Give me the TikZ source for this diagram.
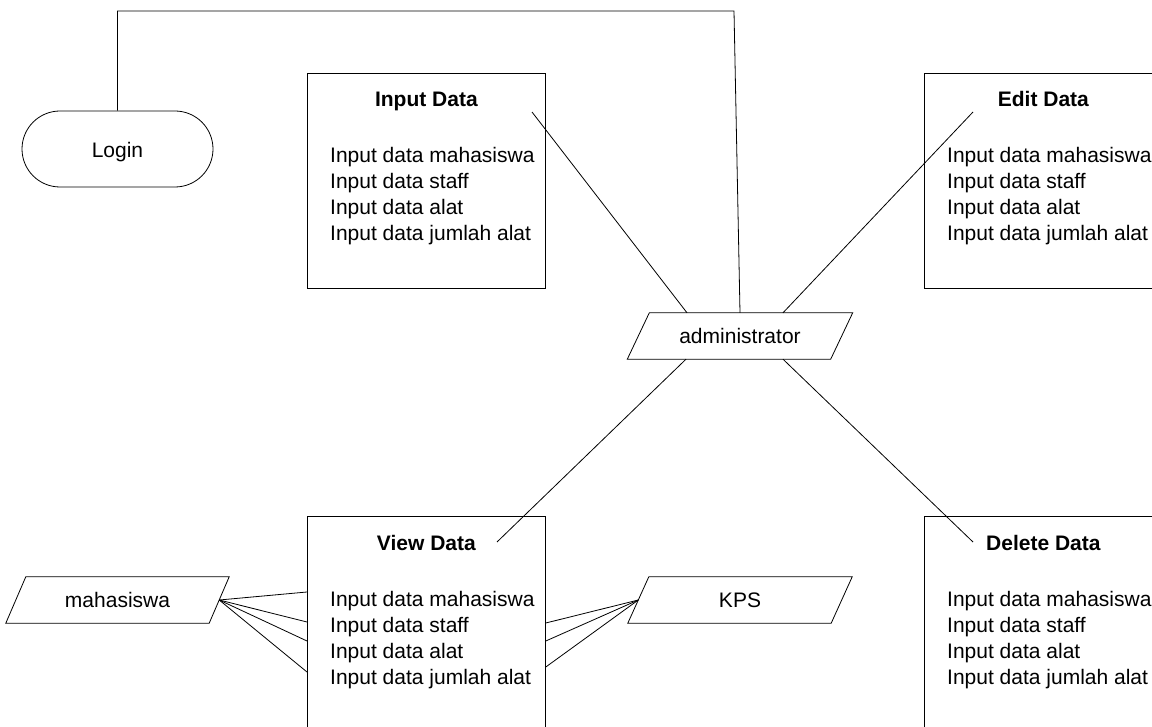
\documentclass[tikz,border=0pt]{standalone}
\usepackage{fontspec}
\setmainfont{Liberation Sans}
\usetikzlibrary{calc}

\tikzset{
  txt/.style={font=\fontsize{21}{25}\selectfont},
  menubox/.style={draw, line width=0.8pt, minimum width=238pt, minimum height=215pt,
                  inner sep=0pt, anchor=north west},
  ttl/.style={font=\fontsize{21}{25}\selectfont\bfseries, anchor=base, inner sep=0pt},
  itm/.style={txt, anchor=base west, inner sep=0pt},
  actor/.style={txt, minimum width=203pt, minimum height=46pt, inner sep=0pt},
  term/.style={txt, draw, line width=0.8pt, rounded corners=38pt,
               minimum width=191pt, minimum height=76pt, inner sep=0pt},
  wire/.style={line width=0.8pt},
}

% parallelogram drawn around a rectangular node: #1 = node, #2 = half slant
\newcommand{\ioshape}[2]{%
  \draw[wire] ($(#1.north west)+(#2,0)$) -- ($(#1.north east)+(#2,0)$)
    -- ($(#1.south east)+(-#2,0)$) -- ($(#1.south west)+(-#2,0)$) -- cycle;}

% title and four entries of a menu box: #1 = box, #2 = title, #3 = prefix
\newcommand{\menutext}[3]{%
  \node[ttl] (#3t) at ($(#1.north)+(0,34)$) {#2};
  \node[itm] (#3a) at ($(#1.north west)+(23,90)$) {Input data mahasiswa};
  \node[itm] (#3b) at ($(#1.north west)+(23,116)$) {Input data staff};
  \node[itm] (#3c) at ($(#1.north west)+(23,142)$) {Input data alat};
  \node[itm] (#3d) at ($(#1.north west)+(23,168)$) {Input data jumlah alat};}

\begin{document}
\begin{tikzpicture}[x=1pt, y=-1pt]
  \useasboundingbox (0,0) rectangle (1152,727);

  % login terminal
  \node[term] (login) at (117.5,149) {};
  \node[txt, anchor=base] (logintxt) at (117.5,158) {Login};

  % menu boxes
  \node[menubox] (inp) at (307,73) {};
  \node[menubox] (edt) at (924,73) {};
  \node[menubox] (vw)  at (307,516) {};
  \node[menubox] (del) at (924,516) {};
  \menutext{inp}{Input Data}{inp}
  \menutext{edt}{Edit Data}{edt}
  \menutext{vw}{View Data}{vw}
  \menutext{del}{Delete Data}{del}

  % actors
  \node[actor] (adm) at (740,336) {administrator};
  \ioshape{adm}{11}
  \node[actor] (mhs) at (117.5,600) {mahasiswa};
  \ioshape{mhs}{10}
  \node[actor] (kps) at (740,600) {KPS};
  \ioshape{kps}{10.5}

  % free ends of the administrator links
  \coordinate (inpEnd) at (532,112);
  \coordinate (edtEnd) at (973,112);
  \coordinate (vwEnd)  at (497,542);
  \coordinate (delEnd) at (973,542);

  % login to administrator
  \coordinate (topL) at (117.5,11);
  \coordinate (topR) at (734,11);
  \draw[wire] (login.north) -- (topL) -- (topR) -- (adm.north);

  % administrator links
  \draw[wire] ($(adm.north)+(-53,0)$) -- (inpEnd);
  \draw[wire] ($(adm.north)+(43,0)$) -- (edtEnd);
  \draw[wire] ($(adm.south)+(-54,0)$) -- (vwEnd);
  \draw[wire] ($(adm.south)+(43,0)$) -- (delEnd);

  % mahasiswa to view box
  \draw[wire] (mhs.east) -- ($(vw.north west)+(0,76)$);
  \draw[wire] (mhs.east) -- ($(vw.north west)+(0,106)$);
  \draw[wire] (mhs.east) -- ($(vw.north west)+(0,125)$);
  \draw[wire] (mhs.east) -- ($(vw.north west)+(0,156)$);

  % KPS to view box
  \draw[wire] (kps.west) -- ($(vw.north east)+(0,107)$);
  \draw[wire] (kps.west) -- ($(vw.north east)+(0,125)$);
  \draw[wire] (kps.west) -- ($(vw.north east)+(0,151)$);
\end{tikzpicture}
\end{document}
